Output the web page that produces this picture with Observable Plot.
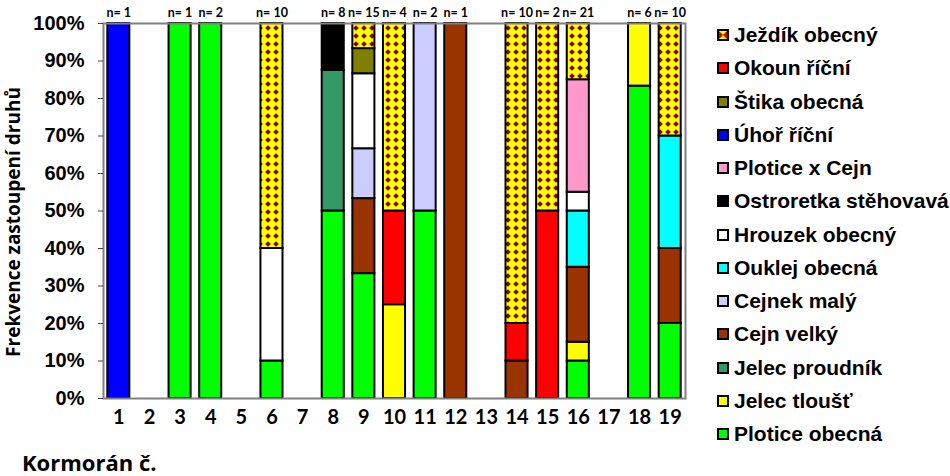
<!DOCTYPE html>
<html>
<head>
<meta charset="utf-8">
<script src="https://cdn.jsdelivr.net/npm/d3@7"></script>
<script src="https://cdn.jsdelivr.net/npm/@observablehq/plot@0.6"></script>
<style>
  body { margin: 0; background: #fff; }
  #wrap { position: relative; width: 950px; height: 476px; overflow: hidden; }
  #legend { position: absolute; left: 717px; top: 0; font-family: "Liberation Sans", Arial, sans-serif; font-weight: bold; font-size: 21px; color: #000; }
  .item { position: absolute; left: 0; display: flex; align-items: center; white-space: nowrap; height: 26px; transform: translateY(-50%); }
  .item svg { margin-right: 5px; flex: none; }
  #ytitle { position: absolute; left: 13px; top: 222px; transform: translate(-50%, -50%) rotate(-90deg); font-family: "Open Sans", Lato, sans-serif; font-weight: bold; font-size: 19px; line-height: 1; white-space: nowrap; color: #000; }
  #xtitle { position: absolute; left: 22px; top: 451px; font-family: "Open Sans", Lato, sans-serif; font-weight: bold; font-size: 22px; line-height: 1; white-space: nowrap; color: #000; }
</style>
</head>
<body>
<div id="wrap">
  <div id="chart"></div>
  <div id="ytitle">Frekvence zastoupení druhů</div>
  <div id="xtitle">Kormorán č.</div>
  <div id="legend"></div>
</div>
<script>
// ---- data ----
const kormorani = ["1","2","3","4","5","6","7","8","9","10","11","12","13","14","15","16","17","18","19"];
const nLabels = ["n= 1","","n= 1","n= 2","","n= 10","","n= 8","n= 15","n= 4","n= 2","n= 1","","n= 10","n= 2","n= 21","","n= 6","n= 10"];

// stack order, bottom to top
const species = ["Plotice obecná","Jelec tloušť","Jelec proudník","Cejn velký","Cejnek malý","Ouklej obecná","Hrouzek obecný","Ostroretka stěhovavá","Plotice x Cejn","Úhoř říční","Štika obecná","Okoun říční","Ježdík obecný"];
const colors = ["#00ff00","#ffff00","#339966","#993300","#ccccff","#00ffff","#ffffff","#000000","#ff99cc","#0000ff","#808000","#ff0000","url(#jezdikPattern)"];

// percentage per cormorant 1..19
const ploticeObecna  = [0,0,100,100,0,10,0,50,33.3,0,50,0,0,0,0,10,0,83.3,20];
const jelecTloust    = [0,0,0,0,0,0,0,0,0,25,0,0,0,0,0,5,0,16.7,0];
const jelecProudnik  = [0,0,0,0,0,0,0,37.5,0,0,0,0,0,0,0,0,0,0,0];
const cejnVelky      = [0,0,0,0,0,0,0,0,20,0,0,100,0,10,0,20,0,0,20];
const cejnekMaly     = [0,0,0,0,0,0,0,0,13.3,0,50,0,0,0,0,0,0,0,0];
const ouklejObecna   = [0,0,0,0,0,0,0,0,0,0,0,0,0,0,0,15,0,0,30];
const hrouzekObecny  = [0,0,0,0,0,30,0,0,20,0,0,0,0,0,0,5,0,0,0];
const ostroretka     = [0,0,0,0,0,0,0,12.5,0,0,0,0,0,0,0,0,0,0,0];
const ploticeXCejn   = [0,0,0,0,0,0,0,0,0,0,0,0,0,0,0,30,0,0,0];
const uhorRicni      = [100,0,0,0,0,0,0,0,0,0,0,0,0,0,0,0,0,0,0];
const stikaObecna    = [0,0,0,0,0,0,0,0,6.7,0,0,0,0,0,0,0,0,0,0];
const okounRicni     = [0,0,0,0,0,0,0,0,0,25,0,0,0,10,50,0,0,0,0];
const jezdikObecny   = [0,0,0,0,0,60,0,0,6.7,50,0,0,0,80,50,15,0,0,30];

const series = [ploticeObecna, jelecTloust, jelecProudnik, cejnVelky, cejnekMaly, ouklejObecna,
  hrouzekObecny, ostroretka, ploticeXCejn, uhorRicni, stikaObecna, okounRicni, jezdikObecny];

const rows = [];
species.forEach((s, si) => {
  series[si].forEach((v, ki) => { if (v > 0) rows.push({k: kormorani[ki], species: s, value: v}); });
});
const nRows = kormorani.map((k, i) => ({k, n: nLabels[i]})).filter(d => d.n);

const chart = Plot.plot({
  width: 950,
  height: 476,
  marginLeft: 103,
  marginRight: 265,
  marginTop: 23,
  marginBottom: 78,
  style: {background: "white", color: "black", overflow: "visible"},
  x: {type: "band", domain: kormorani, paddingInner: 0.28, paddingOuter: 0.14, round: false, label: null},
  y: {domain: [0, 100], label: null},
  color: {type: "ordinal", domain: species, range: colors},
  marks: [
    Plot.barY(rows, {x: "k", y: "value", fill: "species", order: species, stroke: "black", strokeWidth: 2}),
    Plot.frame({stroke: "#808080", strokeWidth: 2}),
    Plot.axisY({ticks: d3.range(0, 101, 10), tickFormat: d => d + "%", tickSize: 5, tickPadding: 14,
      stroke: "#444", fontSize: 20, fontWeight: "bold", fontFamily: "Liberation Sans, Arial, sans-serif", label: null}),
    Plot.axisX({tickSize: 0, tickPadding: 11, fontSize: 20, fontWeight: "bold", fontFamily: "Lato, sans-serif", label: null}),
    Plot.text(nRows, {x: "k", text: "n", frameAnchor: "top", dy: -15, fontSize: 12.5, fontWeight: "bold", fontFamily: "Lato, sans-serif", fill: "black"})
  ]
});

// pattern for Ježdík obecný
const svgNS = "http://www.w3.org/2000/svg";
const defs = document.createElementNS(svgNS, "defs");
defs.innerHTML = '<pattern id="jezdikPattern" width="8" height="8" patternUnits="userSpaceOnUse">' +
  '<rect width="8" height="8" fill="#ffff00"/><path d="M4 1.2L6.8 4L4 6.8L1.2 4Z" fill="#800000"/></pattern>';
chart.insertBefore(defs, chart.firstChild);
document.getElementById("chart").appendChild(chart);

// legend (top to bottom is reverse of stack order)
const legend = document.getElementById("legend");
const legendOrder = species.map((s, i) => ({s, c: colors[i]})).reverse();
legendOrder.forEach((d, i) => {
  const item = document.createElement("div");
  item.className = "item";
  item.style.top = (35 + i * 33.25) + "px";
  let sw;
  if (d.c.startsWith("url")) {
    sw = '<svg width="12" height="12"><rect x="1" y="1" width="10" height="10" fill="#ffff00" stroke="#000" stroke-width="2"/>' +
      '<path d="M2 2L6 6L2 10Z M10 2L6 6L10 10Z" fill="#cc0000"/><rect x="1" y="1" width="10" height="10" fill="none" stroke="#000" stroke-width="2"/></svg>';
  } else {
    sw = '<svg width="12" height="12"><rect x="1" y="1" width="10" height="10" fill="' + d.c + '" stroke="#000" stroke-width="2"/></svg>';
  }
  item.innerHTML = sw + '<span>' + d.s + '</span>';
  legend.appendChild(item);
});
</script>
</body>
</html>
